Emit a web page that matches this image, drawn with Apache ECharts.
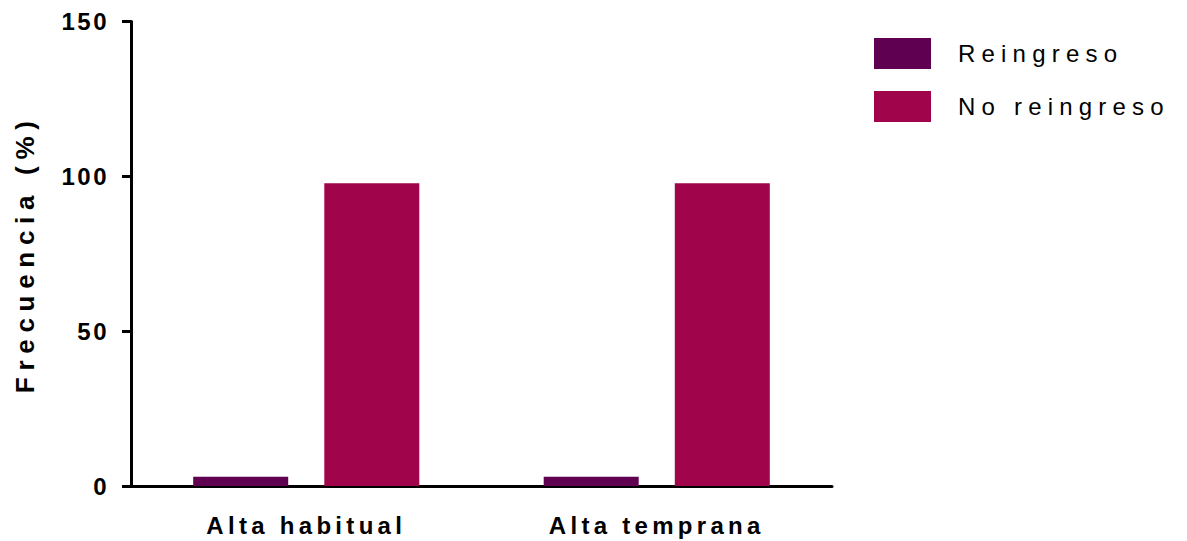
<!DOCTYPE html>
<html>
<head>
<meta charset="utf-8">
<script src="https://cdn.jsdelivr.net/npm/echarts@6/dist/echarts.min.js"></script>
<style>
html,body{margin:0;padding:0;background:#fff;}
#chart{width:1187px;height:541px;}
</style>
</head>
<body>
<div id="chart"></div>
<script>
const categories = ['Alta habitual', 'Alta temprana'];
const seriesNames = ['Reingreso', 'No reingreso'];
const reingreso = [3.0, 3.0];
const noReingreso = [97.8, 97.8];
const yTicks = [0, 50, 100, 150];
const yTitle = 'Frecuencia (%)';

const chart = echarts.init(document.getElementById('chart'), null, {renderer: 'svg'});
const font = '"Liberation Sans", Arial, sans-serif';
chart.setOption({
  animation: false,
  backgroundColor: '#fff',
  grid: {left: 131, right: 355, top: 21.5, bottom: 55, containLabel: false},
  legend: {
    orient: 'vertical',
    left: 869, top: 33,
    itemWidth: 57, itemHeight: 31, itemGap: 22,
    icon: 'rect',
    selectedMode: false,
    data: seriesNames,
    textStyle: {fontFamily: font, fontSize: 24, color: '#000', padding: [9, 0, 0, 22]}
  },
  xAxis: {
    type: 'category',
    data: categories,
    axisLine: {lineStyle: {color: '#000', width: 3}},
    axisTick: {alignWithLabel: true, length: 11, lineStyle: {color: '#000', width: 3}},
    axisLabel: {fontFamily: font, fontWeight: 'bold', fontSize: 24, color: '#000', margin: 27}
  },
  yAxis: {
    type: 'value',
    min: yTicks[0], max: yTicks[yTicks.length - 1], interval: 50,
    name: yTitle,
    nameLocation: 'middle',
    nameGap: 93,
    nameTextStyle: {fontFamily: font, fontWeight: 'bold', fontSize: 26, color: '#000'},
    splitLine: {show: false},
    axisLine: {show: true, lineStyle: {color: '#000', width: 3}},
    axisTick: {show: true, length: 9, lineStyle: {color: '#000', width: 3}},
    axisLabel: {fontFamily: font, fontWeight: 'bold', fontSize: 24, color: '#000', margin: 22}
  },
  series: [
    {name: seriesNames[0], type: 'bar', data: reingreso, barWidth: 95, barGap: '38%',
     itemStyle: {color: '#600050'}, silent: true},
    {name: seriesNames[1], type: 'bar', data: noReingreso, barWidth: 95, barGap: '38%',
     itemStyle: {color: '#a0054b'}, silent: true}
  ]
});

function spaceText() {
  const texts = document.querySelectorAll('#chart svg text');
  texts.forEach(t => {
    const s = t.textContent;
    let ls = 0;
    if (yTicks.map(String).includes(s)) ls = 2.5;
    else if (categories.includes(s)) ls = 4.3;
    else if (s === yTitle) ls = 6.7;
    else if (seriesNames.includes(s)) ls = 6.2;
    if (ls) t.setAttribute('letter-spacing', ls + 'px');
  });
}
spaceText();
chart.on('finished', spaceText);
</script>
</body>
</html>
